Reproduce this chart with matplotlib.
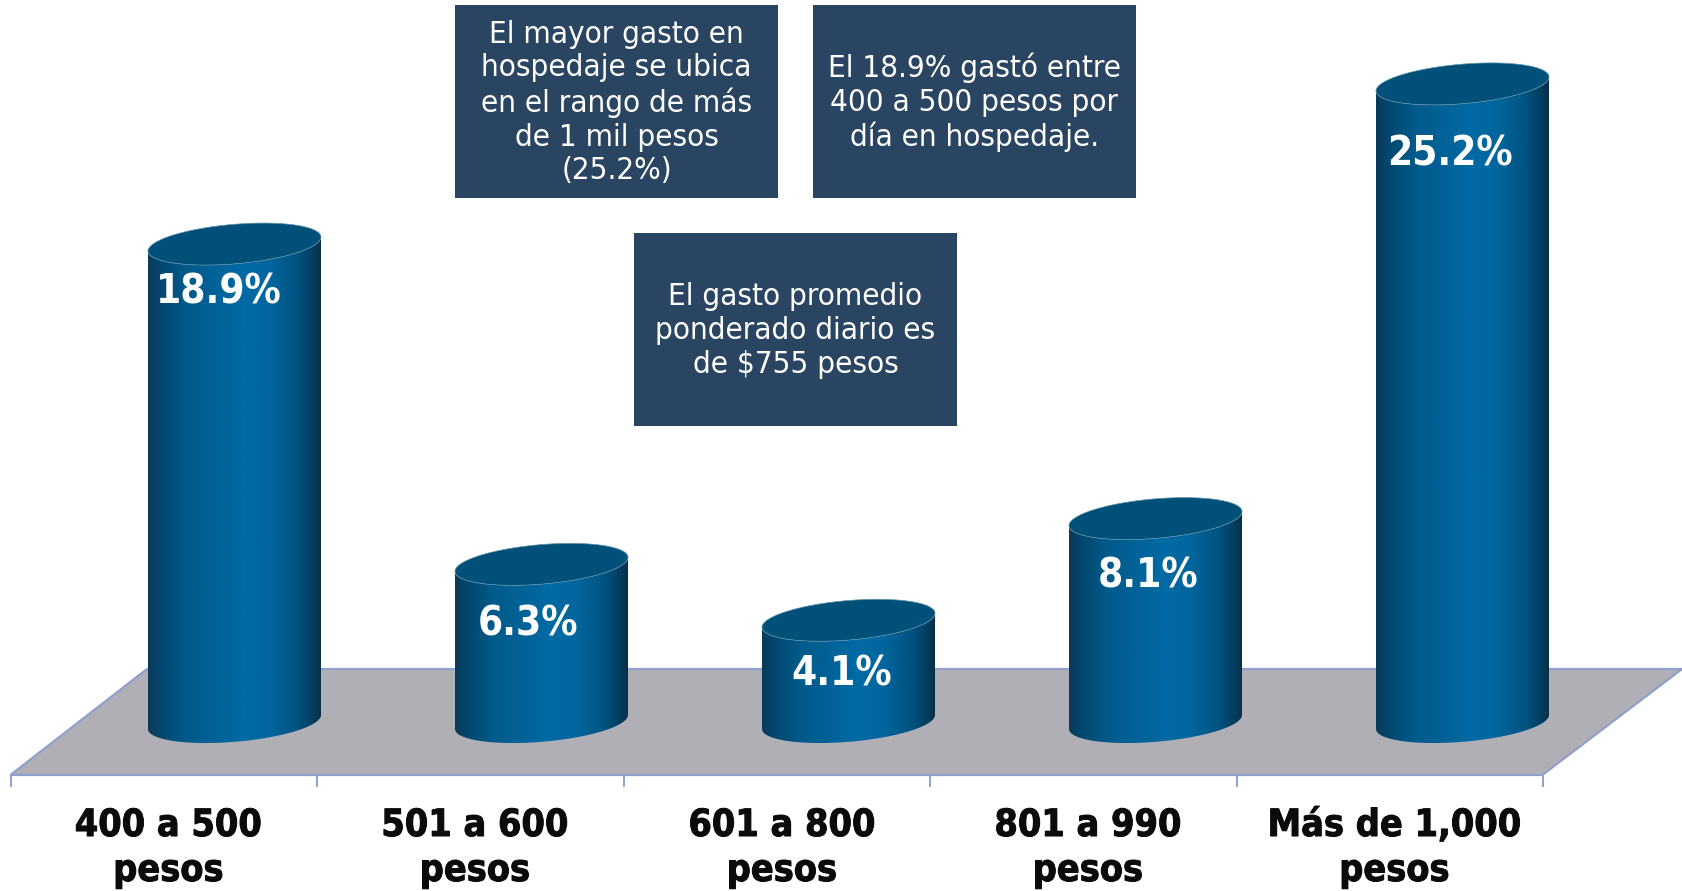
import numpy as np
import matplotlib
matplotlib.use("Agg")
import matplotlib.pyplot as plt
import matplotlib.patheffects as pe
from matplotlib.colors import LinearSegmentedColormap
from matplotlib.patches import Polygon, Rectangle, PathPatch
from matplotlib.path import Path
from matplotlib.transforms import Affine2D

categories = ["400 a 500\npesos", "501 a 600\npesos", "601 a 800\npesos", "801 a 990\npesos", "Más de 1,000\npesos"]
values = [18.9, 6.3, 4.1, 8.1, 25.2]
value_labels = ["18.9%", "6.3%", "4.1%", "8.1%", "25.2%"]
notes = [
    "El mayor gasto en\nhospedaje se ubica\nen el rango de más\nde 1 mil pesos\n(25.2%)",
    "El 18.9% gastó entre\n400 a 500 pesos por\ndía en hospedaje.",
    "El gasto promedio\nponderado diario es\nde $755 pesos",
]

W, H = 1682, 891
fig = plt.figure(figsize=(W / 100, H / 100), dpi=100, facecolor="white")
ax = fig.add_axes([0, 0, 1, 1])

# pixel geometry of the scales
PX_X0, PX_DX = 234.5, 307.0
PX_Y0, PX_DY = 724.5, 25.42
XLIM = (-PX_X0 / PX_DX, (W - PX_X0) / PX_DX)
YLIM = ((PX_Y0 - H) / PX_DY, PX_Y0 / PX_DY)
ax.set_xlim(XLIM)
ax.set_ylim(YLIM)
ax.axis("off")

# helper transform: image pixels, origin top-left
px = Affine2D().scale(1, -1).translate(0, H)

FLOOR = "#b0afb5"
AXIS = "#8fa0cf"
BOX = "#2a4562"
TOP = "#01507a"
FONT = "DejaVu Sans"

# floor
ax.add_patch(Polygon([(11, 774.5), (147, 669), (1682, 669), (1682, 670), (1543, 774.5)],
                     closed=True, facecolor=FLOOR, edgecolor="none", transform=px, zorder=1))
for seg in ([(11, 774.5), (147, 669)], [(147, 669), (1682, 669)], [(1543, 774.5), (1682, 669)],
            [(11, 774.5), (1543, 774.5)]):
    xs, ys = zip(*seg)
    ax.plot(xs, ys, color=AXIS, lw=1.6, transform=px, zorder=2, solid_capstyle="butt")
for i in range(6):
    t = 11 + i * (1543 - 11) / 5
    ax.plot([t, t], [774.5, 786], color=AXIS, lw=1.4, transform=px, zorder=2)

# cylinders
cmap = LinearSegmentedColormap.from_list("cyl", [
    (0.00, "#0b3a58"), (0.07, "#03476f"), (0.22, "#015a8a"), (0.55, "#016aa4"),
    (0.70, "#01669e"), (0.87, "#02527f"), (0.96, "#033c5e"), (1.00, "#0a2f47"),
])
grad = np.linspace(0, 1, 256).reshape(1, -1)
A = 86.5 / PX_DX        # half width, category units
B = 19.8 / PX_DY        # minor half axis, value units
K = 14.0 / 173.0 * PX_DX / PX_DY  # tilt, value units per category unit
BASE_LIFT = 2.5 / PX_DY  # bottom rim sits slightly above the zero line


def ell_y(xrel, sign, base):
    return base + K * xrel + sign * B * np.sqrt(np.clip(1 - (xrel / A) ** 2, 0, 1))


xrel = A * np.cos(np.linspace(np.pi, 0, 120))
for i, v in enumerate(values):
    lo = ell_y(xrel, -1, BASE_LIFT)
    hi = ell_y(xrel[::-1], -1, v)
    verts = np.vstack([np.column_stack([i + xrel, lo]),
                       np.column_stack([i + xrel[::-1], hi])])
    body = Path(np.vstack([verts, verts[:1]]), closed=True)
    im = ax.imshow(grad, cmap=cmap, extent=(i - A, i + A, -2, v + 2), aspect="auto",
                   interpolation="bilinear", zorder=3)
    im.set_clip_path(PathPatch(body, transform=ax.transData))
    t = np.linspace(0, 2 * np.pi, 200)
    top_x = A * np.cos(t)
    top_y = v + K * top_x + B * np.sin(t)
    ax.add_patch(Polygon(np.column_stack([i + top_x, top_y]), closed=True, facecolor=TOP,
                         edgecolor="#5f93ad", lw=0.5, zorder=4))
ax.set_xlim(XLIM)
ax.set_ylim(YLIM)

# value labels
label_px = [(219, 293), (528, 625), (842, 675), (1148, 577), (1450, 155)]
for (lx, ly), s in zip(label_px, value_labels):
    ax.text(lx, ly, s, transform=px, ha="center", va="center", color="white",
            fontsize=29, fontweight="bold", family=FONT, stretch="condensed", zorder=6)

# category labels
cat_px = [168.5, 475, 782, 1088, 1394.5]
for cx, s in zip(cat_px, categories):
    ax.text(cx, 848.5, s, transform=px, ha="center", va="center", color="#0b0b0b",
            fontsize=27, fontweight="bold", family=FONT, stretch="condensed",
            linespacing=1.32, zorder=6,
            path_effects=[pe.withStroke(linewidth=0.7, foreground="#0b0b0b")])

# note boxes
boxes = [(455, 5, 323, 193), (813, 5, 323, 193), (634, 233, 323, 193)]
for (bx, by, bw, bh), s in zip(boxes, notes):
    ax.add_patch(Rectangle((bx, by), bw, bh, facecolor=BOX, edgecolor="none", transform=px, zorder=5))
    ax.text(bx + bw / 2, by + bh / 2 + 1, s, transform=px, ha="center", va="center", color="white",
            fontsize=22.5, family=FONT, stretch="condensed", linespacing=1.2, zorder=6)

fig.savefig("out.png", dpi=100)
